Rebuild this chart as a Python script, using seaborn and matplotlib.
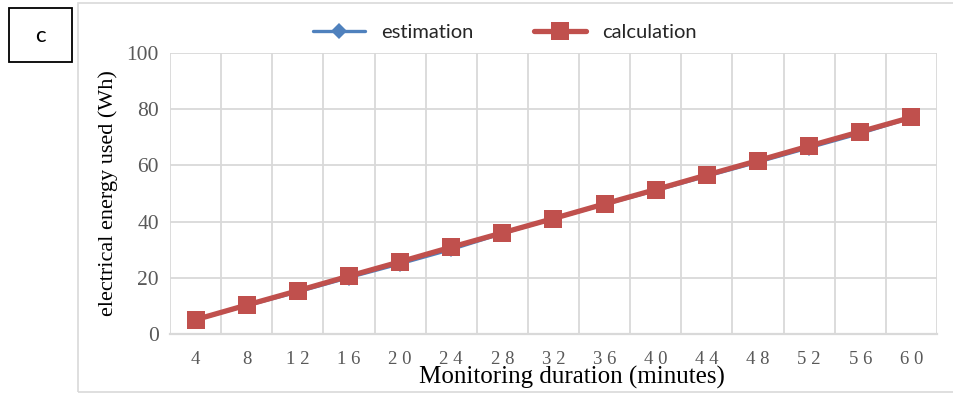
import matplotlib
matplotlib.use("Agg")
import matplotlib.pyplot as plt
from matplotlib.patches import Rectangle
import seaborn as sns
import pandas as pd
import numpy as np

# Monitoring duration (minutes) and energy used (Wh)
minutes = [4, 8, 12, 16, 20, 24, 28, 32, 36, 40, 44, 48, 52, 56, 60]
estimation = [5.0, 10.1, 15.0, 20.1, 25.0, 30.1, 35.8, 41.0, 46.1, 51.1, 56.2, 61.2, 66.3, 71.4, 77.0]
calculation = [5.1, 10.3, 15.4, 20.6, 25.7, 30.9, 36.0, 41.1, 46.3, 51.4, 56.6, 61.7, 66.9, 72.0, 77.1]
x_labels = ["4", "8", "1 2", "1 6", "2 0", "2 4", "2 8", "3 2", "3 6", "4 0", "4 4", "4 8", "5 2", "5 6", "6 0"]
y_ticks = [0, 20, 40, 60, 80, 100]

sns.set_theme(style="white")
plt.rcParams["font.family"] = ["DejaVu Sans"]

fig = plt.figure(figsize=(9.54, 3.97), dpi=100)
ax = fig.add_axes([170 / 954, 1 - 334 / 397, 767 / 954, 281 / 397])

pos = np.arange(len(minutes))
df = pd.DataFrame({"pos": pos, "estimation": estimation, "calculation": calculation})

blue = "#4F81BD"
red = "#C0504D"
sns.lineplot(data=df, x="pos", y="estimation", ax=ax, color=blue, linewidth=2.4,
             marker="D", markersize=8, markeredgewidth=0, label="estimation", zorder=3)
sns.lineplot(data=df, x="pos", y="calculation", ax=ax, color=red, linewidth=3.8,
             marker="s", markersize=12.5, markeredgewidth=0, label="calculation", zorder=4)

ax.set_xlim(-0.5, len(minutes) - 0.5)
ax.set_ylim(0, 100)
ax.set_yticks(y_ticks)
ax.set_xticks(pos)
ax.set_xticklabels(x_labels)
ax.set_xticks(np.arange(-0.5, len(minutes), 1.0), minor=True)

grid_c = "#D9D9D9"
ax.grid(True, which="minor", axis="x", color=grid_c, linewidth=1.3)
ax.grid(True, which="major", axis="y", color=grid_c, linewidth=1.3)
ax.grid(False, which="major", axis="x")
for s in ["top", "right", "left"]:
    ax.spines[s].set_visible(False)
ax.spines["bottom"].set_color(grid_c)
ax.spines["bottom"].set_linewidth(1.6)
ax.tick_params(axis="both", which="both", length=0)
ax.tick_params(axis="x", pad=12)
ax.tick_params(axis="y", pad=8)

for lab in ax.get_xticklabels():
    lab.set_fontfamily("Liberation Serif")
    lab.set_color("#595959")
    lab.set_fontsize(13.5)
for lab in ax.get_yticklabels():
    lab.set_fontfamily("Liberation Serif")
    lab.set_color("#595959")
    lab.set_fontsize(15.5)

ax.set_xlabel("Monitoring duration (minutes)", fontfamily="Liberation Serif",
              fontsize=18, color="black", labelpad=1)
ax.xaxis.set_label_coords((572 - 170) / 767, -0.115)
ax.set_ylabel("electrical energy used (Wh)", fontfamily="Liberation Serif",
              fontsize=16, color="black", labelpad=6)

leg = ax.legend(loc="center", bbox_to_anchor=(505 / 954, 1 - 32 / 397),
                bbox_transform=fig.transFigure, ncol=2, frameon=False,
                fontsize=14.5, handlelength=2.6, columnspacing=3.0, handletextpad=0.8,
                borderaxespad=0)
for t in leg.get_texts():
    t.set_fontfamily("Lato")
    t.set_color("#262626")

# chart frame and panel letter box
fig.patches.append(Rectangle((78 / 954, 5 / 397), 890 / 954, 389 / 397, transform=fig.transFigure,
                             fill=False, edgecolor="#D9D9D9", linewidth=1.2))
fig.patches.append(Rectangle((9 / 954, 1 - 62 / 397), 63 / 954, 54 / 397, transform=fig.transFigure,
                             fill=False, edgecolor="black", linewidth=1.3))
fig.text(40.5 / 954, 1 - 36 / 397, "c", ha="center", va="center", fontsize=16,
         fontfamily="Lato", color="black")

fig.savefig("out.png", dpi=100)
